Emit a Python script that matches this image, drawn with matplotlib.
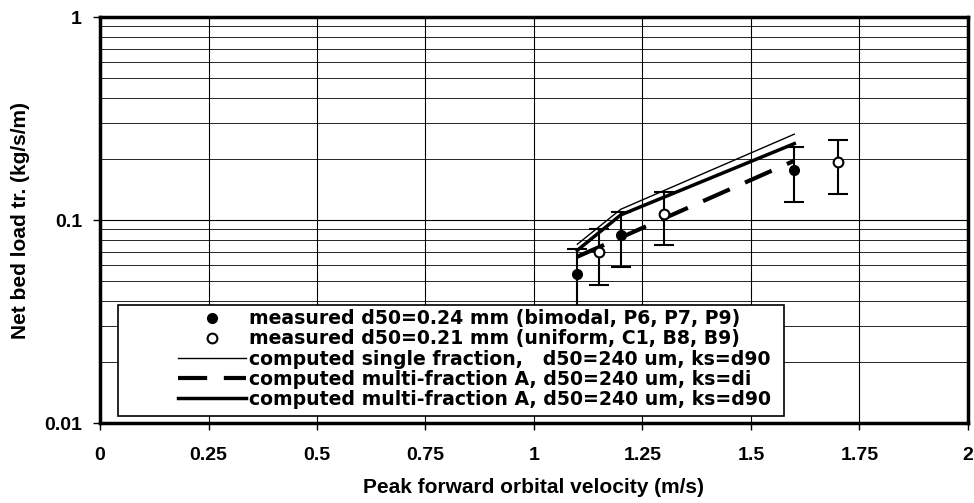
import matplotlib
matplotlib.use("Agg")
from matplotlib import pyplot as plt
from matplotlib.patches import Rectangle
from matplotlib.ticker import LogLocator, NullFormatter, FixedLocator

plt.rcParams['font.family'] = ['Liberation Sans', 'DejaVu Sans']
plt.rcParams['font.weight'] = 'bold'

# measured, bimodal sand
x_bimodal = [1.1, 1.2, 1.6]
y_bimodal = [0.054, 0.084, 0.177]
lo_bimodal = [0.035, 0.059, 0.123]
hi_bimodal = [0.072, 0.110, 0.230]

# measured, uniform sand
x_uniform = [1.15, 1.3, 1.7]
y_uniform = [0.070, 0.107, 0.194]
lo_uniform = [0.048, 0.075, 0.134]
hi_uniform = [0.090, 0.138, 0.249]

# computed
x_comp = [1.1, 1.2, 1.6]
y_single = [0.076, 0.113, 0.265]
y_multi_di = [0.066, 0.082, 0.196]
y_multi_d90 = [0.071, 0.106, 0.238]

x_ticks = [0, 0.25, 0.5, 0.75, 1, 1.25, 1.5, 1.75, 2]
x_ticklabels = ['0', '0.25', '0.5', '0.75', '1', '1.25', '1.5', '1.75', '2']

fig = plt.figure(figsize=(9.74, 5.03), dpi=100)
ax = fig.add_axes([0.1027, 0.159, 0.891, 0.807])

ax.set_yscale('log')
ax.set_xlim(0, 2)
ax.set_ylim(0.01, 1)

ax.plot(x_comp, y_single, color='black', lw=1.0, zorder=3,
        label='computed single fraction,   d50=240 um, ks=d90')
ax.plot(x_comp, y_multi_di, color='black', lw=3.0, dashes=(7, 4), zorder=3,
        label='computed multi-fraction A, d50=240 um, ks=di')
ax.plot(x_comp, y_multi_d90, color='black', lw=2.5, zorder=3,
        label='computed multi-fraction A, d50=240 um, ks=d90')

err_b = [[y - l for y, l in zip(y_bimodal, lo_bimodal)],
         [h - y for y, h in zip(y_bimodal, hi_bimodal)]]
err_u = [[y - l for y, l in zip(y_uniform, lo_uniform)],
         [h - y for y, h in zip(y_uniform, hi_uniform)]]
ax.errorbar(x_bimodal, y_bimodal, yerr=err_b, fmt='none', ecolor='black',
            capsize=7, elinewidth=1.5, capthick=1.5, zorder=4)
ax.errorbar(x_uniform, y_uniform, yerr=err_u, fmt='none', ecolor='black',
            capsize=7, elinewidth=1.5, capthick=1.5, zorder=4)
ax.plot(x_bimodal, y_bimodal, 'o', color='black', mfc='black', ms=7,
        zorder=5, label='measured d50=0.24 mm (bimodal, P6, P7, P9)')
ax.plot(x_uniform, y_uniform, 'o', color='black', mfc='white', ms=7,
        mew=1.5, zorder=5, label='measured d50=0.21 mm (uniform, C1, B8, B9)')

ax.xaxis.set_major_locator(FixedLocator(x_ticks))
ax.set_xticklabels(x_ticklabels)
ax.yaxis.set_major_locator(FixedLocator([0.01, 0.1, 1]))
ax.set_yticklabels(['0.01', '0.1', '1'])
ax.yaxis.set_minor_locator(LogLocator(base=10, subs=range(2, 10)))
ax.yaxis.set_minor_formatter(NullFormatter())

ax.grid(True, which='major', color='black', lw=0.8)
ax.grid(True, which='minor', axis='y', color='black', lw=0.6)
ax.set_axisbelow(True)

for s in ax.spines.values():
    s.set_linewidth(2.5)
ax.tick_params(axis='both', which='major', direction='out', length=5, width=1,
               labelsize=14)
ax.tick_params(axis='x', pad=12)
ax.tick_params(axis='y', pad=8)
ax.tick_params(axis='y', which='minor', length=0)

ax.set_xlabel('Peak forward orbital velocity (m/s)', fontsize=15,
              fontweight='bold', labelpad=10)
ax.set_ylabel('Net bed load tr. (kg/s/m)', fontsize=15, fontweight='bold',
              labelpad=10)

# legend box, wider than its contents on the left like the original
box = Rectangle((0.0207, 0.017), 0.768, 0.274, transform=ax.transAxes,
                facecolor='white', edgecolor='black', lw=1.2, zorder=9)
ax.add_patch(box)

handles, labels = ax.get_legend_handles_labels()
order = [3, 4, 0, 1, 2]
leg = ax.legend([handles[i] for i in order], [labels[i] for i in order],
                loc='lower left', bbox_to_anchor=(0.09, 0.035), frameon=False,
                prop={'family': 'DejaVu Sans', 'weight': 'bold', 'size': 13.6},
                handlelength=3.6, labelspacing=0.06, borderpad=0,
                handletextpad=0.15, borderaxespad=0)
leg.set_zorder(10)

fig.savefig('out.png', dpi=100)
